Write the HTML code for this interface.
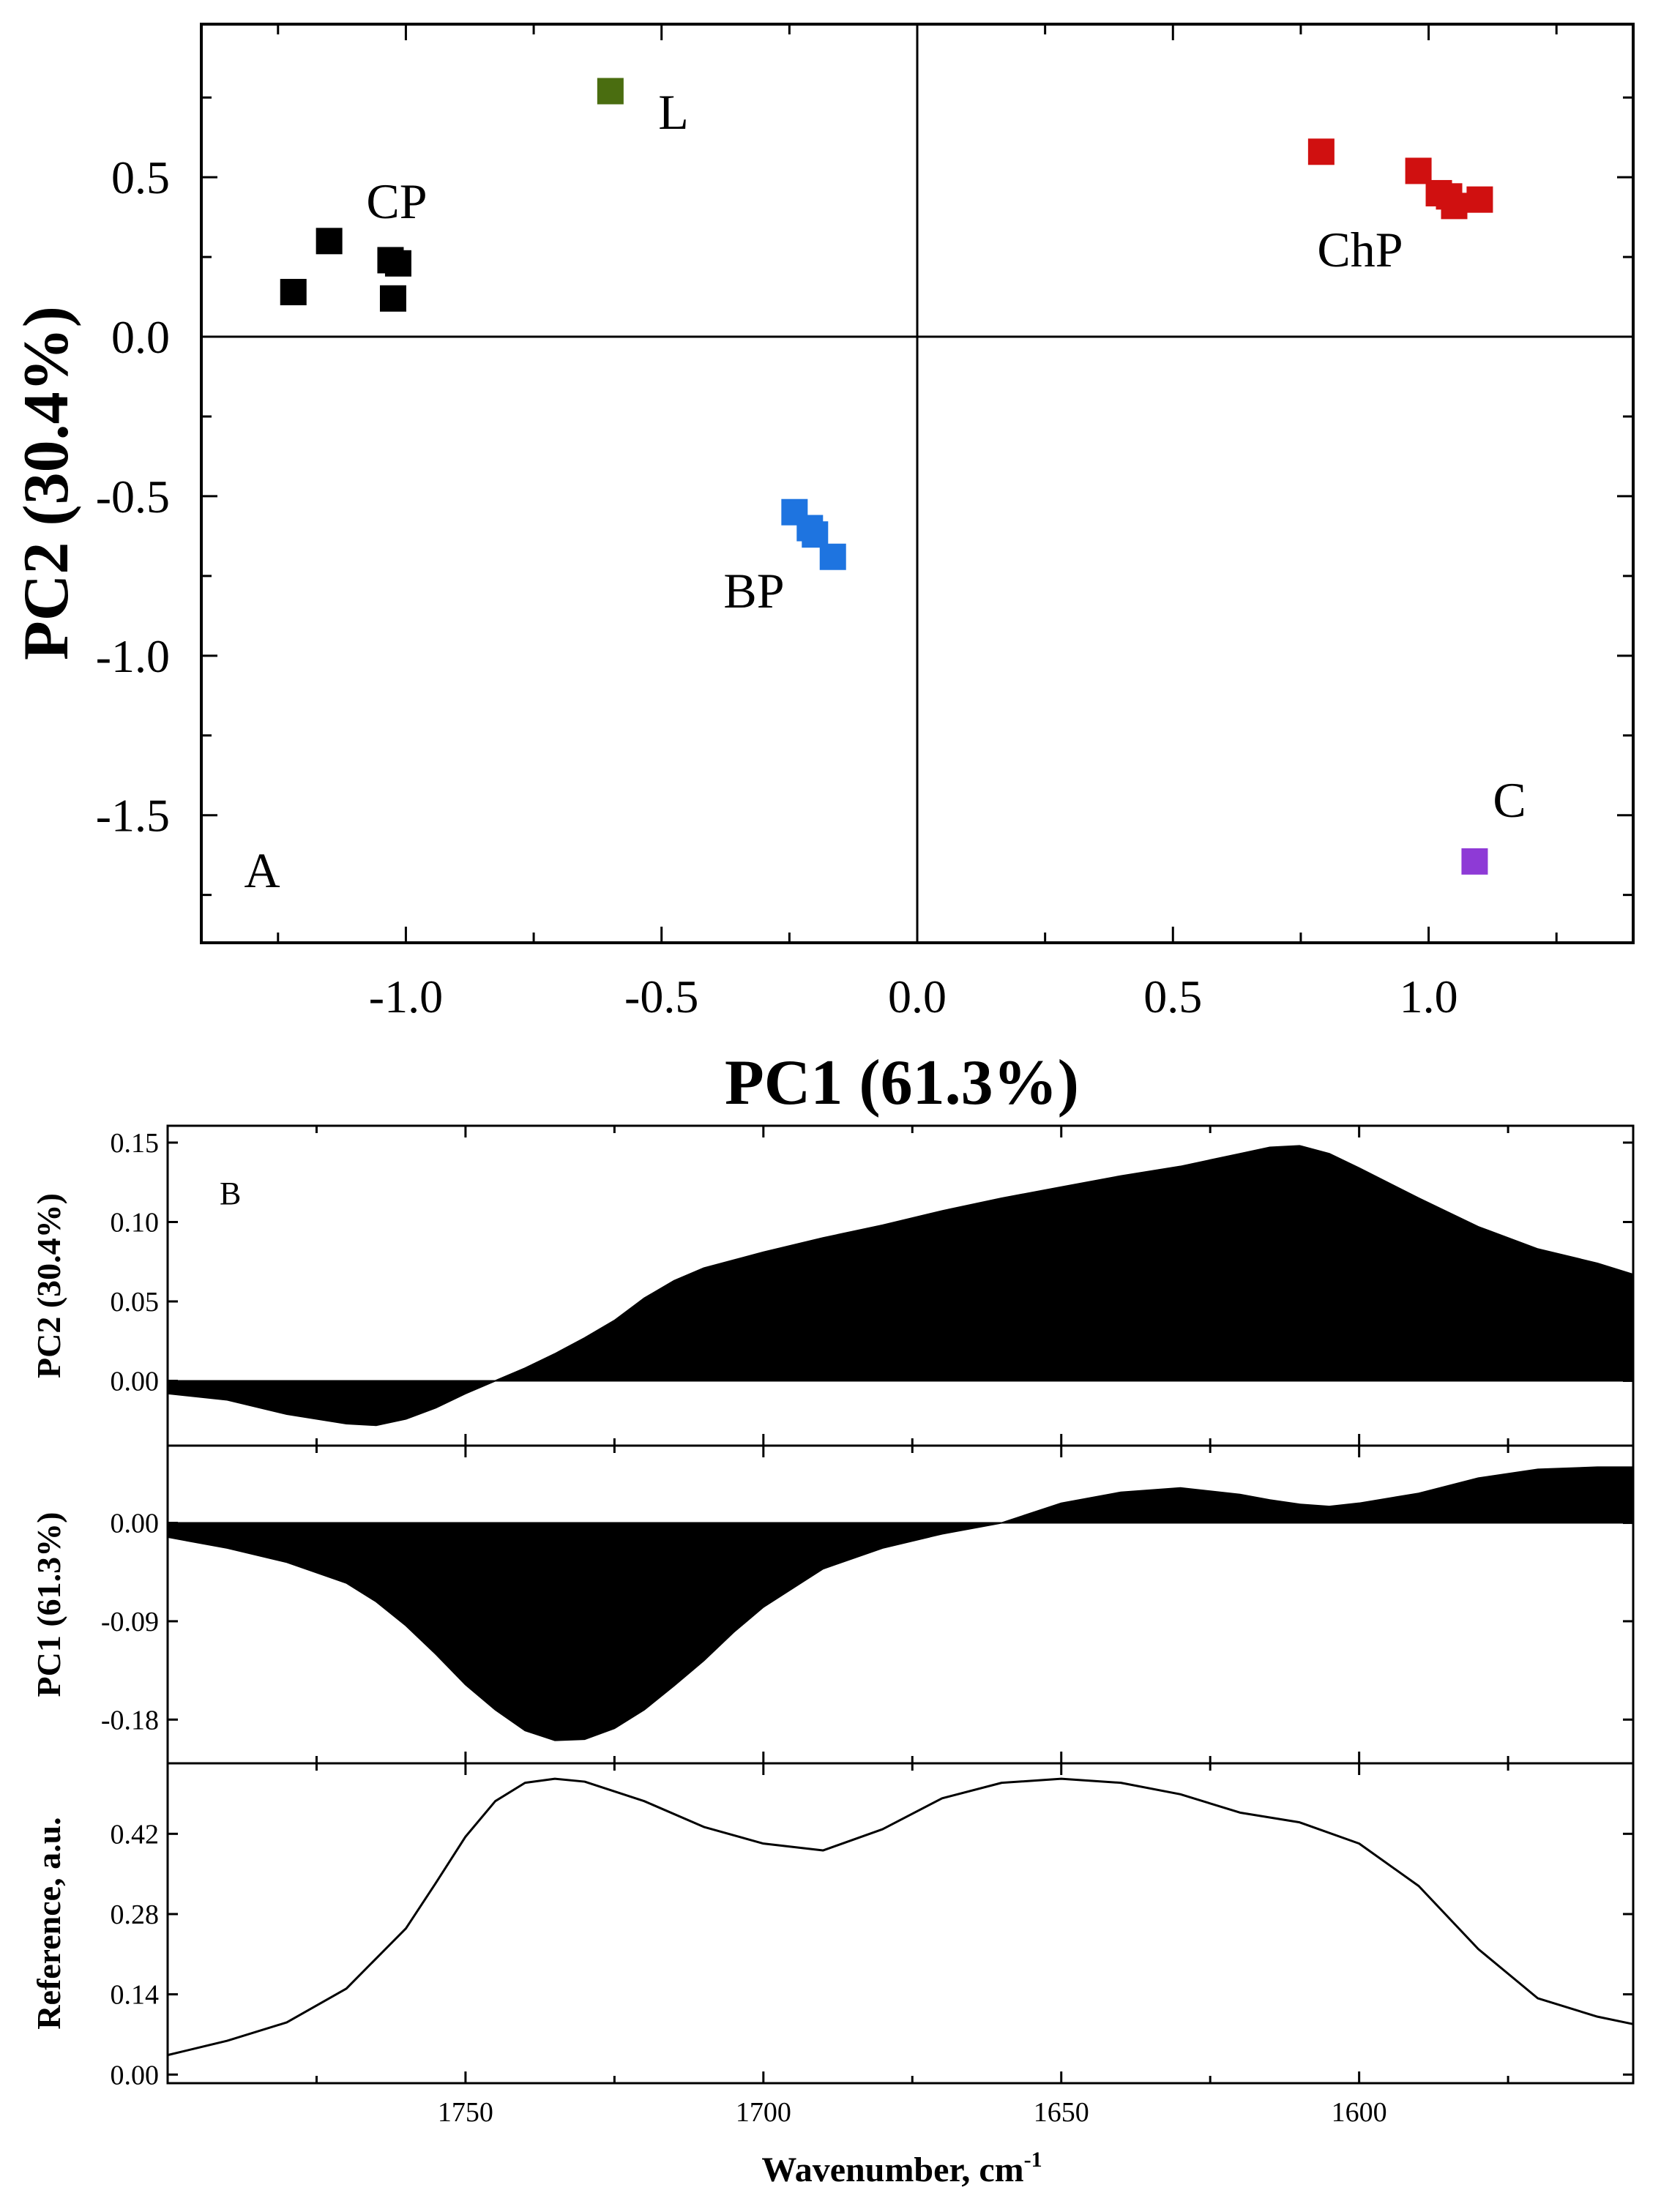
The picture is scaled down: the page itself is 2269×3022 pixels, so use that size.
<!DOCTYPE html>
<html><head><meta charset="utf-8"><style>
html,body{margin:0;padding:0;background:#fff;}
svg{display:block;font-family:"Liberation Serif",serif;}
</style></head><body>
<svg id="fig" width="2269" height="3022" viewBox="0 0 2269 3022" xmlns="http://www.w3.org/2000/svg">
<g id="pa"></g>
<g id="pb"></g>
</svg>
<script>
// ---- Panel A data ----
const groupNames = ["CP","L","ChP","BP","C"];
const groupColors = ["#000000","#4a6d10","#d01010","#1e74e0","#8e3ad6"];
const cpX = [-1.22,-1.15,-1.03,-1.015,-1.025];
const cpY = [0.14,0.30,0.24,0.23,0.12];
const lX = [-0.60];
const lY = [0.77];
const chpX = [0.79,0.98,1.02,1.04,1.05,1.10];
const chpY = [0.58,0.52,0.45,0.44,0.41,0.43];
const bpX = [-0.24,-0.21,-0.20,-0.165];
const bpY = [-0.55,-0.60,-0.62,-0.69];
const cX = [1.09];
const cY = [-1.645];
const xTicksA = [-1.0,-0.5,0.0,0.5,1.0];
const yTicksA = [-1.5,-1.0,-0.5,0.0,0.5];
// ---- Panel B data ----
const waves = [1800,1790,1780,1770,1765,1760,1755,1750,1745,1740,1735,1730,1725,1720,1715,1710,1705,1700,1690,1680,1670,1660,1650,1640,1630,1620,1615,1610,1605,1600,1590,1580,1570,1560,1554];
const pc2Load = [-0.008,-0.012,-0.021,-0.027,-0.028,-0.024,-0.017,-0.008,0.0,0.008,0.017,0.027,0.038,0.052,0.063,0.071,0.076,0.081,0.090,0.098,0.107,0.115,0.122,0.129,0.135,0.143,0.147,0.148,0.143,0.134,0.115,0.097,0.083,0.074,0.067];
const pc1Load = [-0.013,-0.023,-0.036,-0.055,-0.072,-0.094,-0.12,-0.148,-0.171,-0.19,-0.199,-0.198,-0.188,-0.171,-0.149,-0.126,-0.10,-0.077,-0.042,-0.023,-0.010,0.0,0.018,0.028,0.032,0.026,0.021,0.017,0.015,0.018,0.027,0.041,0.049,0.051,0.051];
const refWaves = [1800,1790,1780,1770,1760,1755,1750,1745,1740,1735,1730,1720,1710,1700,1690,1680,1670,1660,1650,1640,1630,1620,1610,1600,1590,1580,1570,1560,1554];
const refVals = [0.034,0.059,0.091,0.15,0.255,0.334,0.415,0.477,0.509,0.516,0.511,0.477,0.432,0.403,0.391,0.428,0.482,0.509,0.516,0.509,0.489,0.457,0.44,0.403,0.329,0.219,0.133,0.101,0.088];
const xTicksB = [1750,1700,1650,1600];
const pc2Ticks = [0.00,0.05,0.10,0.15];
const pc1Ticks = [-0.18,-0.09,0.00];
const refTicks = [0.00,0.14,0.28,0.42];

const NS="http://www.w3.org/2000/svg";
function mk(parent,tag,attrs,txt){const e=document.createElementNS(NS,tag);for(const k in attrs)e.setAttribute(k,attrs[k]);if(txt!==undefined)e.textContent=txt;parent.appendChild(e);return e;}

// ---- Panel A ----
const pa=document.getElementById('pa');
const AL=275,AR=2231,AT=33,AB=1288;
const axMin=-1.4,axMax=1.4,ayMin=-1.9,ayMax=0.98;
const sxA=v=>AL+(v-axMin)/(axMax-axMin)*(AR-AL);
const syA=v=>AB-(v-ayMin)/(ayMax-ayMin)*(AB-AT);
let fr=mk(pa,'rect',{x:AL,y:AT,width:AR-AL,height:AB-AT,fill:'none',stroke:'#000','stroke-width':4});


let zl=mk(pa,'line',{x1:sxA(0),x2:sxA(0),y1:AT,y2:AB,stroke:'#000','stroke-width':3});


zl=mk(pa,'line',{x1:AL,x2:AR,y1:syA(0),y2:syA(0),stroke:'#000','stroke-width':3});


for(let v=-1.25;v<=1.26;v+=0.25){const x=sxA(v);const maj=Math.abs(v*2-Math.round(v*2))<1e-6;const L=maj?22:14;
 mk(pa,'line',{x1:x,x2:x,y1:AB,y2:AB-L,stroke:'#000','stroke-width':3});
 mk(pa,'line',{x1:x,x2:x,y1:AT,y2:AT+L,stroke:'#000','stroke-width':3});}
for(let v=-1.75;v<=0.76;v+=0.25){const y=syA(v);const maj=Math.abs(v*2-Math.round(v*2))<1e-6;const L=maj?22:14;
 mk(pa,'line',{x1:AL,x2:AL+L,y1:y,y2:y,stroke:'#000','stroke-width':3});
 mk(pa,'line',{x1:AR,x2:AR-L,y1:y,y2:y,stroke:'#000','stroke-width':3});}
xTicksA.forEach(v=>{const t=mk(pa,'text',{x:sxA(v),y:1383,'font-size':64,'text-anchor':'middle'},v.toFixed(1));
 
 });
yTicksA.forEach(v=>{const t=mk(pa,'text',{x:232,y:syA(v)+22,'font-size':64,'text-anchor':'end'},v.toFixed(1));
 
 });
let t=mk(pa,'text',{x:1232,y:1508,'font-size':88,'font-weight':'bold','text-anchor':'middle'},'PC1 (61.3%)');


t=mk(pa,'text',{x:0,y:0,'font-size':88,'font-weight':'bold','text-anchor':'middle',transform:'translate(92,660) rotate(-90)'},'PC2 (30.4%)');


const groups=[[cpX,cpY],[lX,lY],[chpX,chpY],[bpX,bpY],[cX,cY]];
const gNames=['cp-point','l-point','chp-point','bp-point','c-point'];
groups.forEach((g,gi)=>{g[0].forEach((xv,i)=>{const r=mk(pa,'rect',{x:sxA(xv)-18,y:syA(g[1][i])-18,width:36,height:36,fill:groupColors[gi]});
 
 });});
const lbls=[['CP',542,298],['L',920,176],['ChP',1858,364],['BP',1030,830],['C',2062,1116],['A',358,1212]];
lbls.forEach(l=>{const e=mk(pa,'text',{x:l[1],y:l[2],'font-size':68,'text-anchor':'middle'},l[0]);
 
 });

// ---- Panel B ----
const pb=document.getElementById('pb');
const BL=229,BR=2231;
const wMax=1800,wMin=1554;
const sxB=w=>BL+(wMax-w)/(wMax-wMin)*(BR-BL);
const subs=[
 {top:1538,bot:1975,min:-0.0408,max:0.1606,ticks:pc2Ticks,vals:pc2Load,title:'PC2 (30.4%)',name:'pc2-loadings'},
 {top:1975,bot:2409,min:-0.22,max:0.0707,ticks:pc1Ticks,vals:pc1Load,title:'PC1 (61.3%)',name:'pc1-loadings'},
 {top:2409,bot:2846,min:-0.015,max:0.543,ticks:refTicks,vals:null,title:'Reference, a.u.',name:'reference-spectrum'}];
subs.forEach((s,si)=>{
 const sy=v=>s.bot-(v-s.min)/(s.max-s.min)*(s.bot-s.top);
 if(s.vals){
  let d='M'+sxB(waves[0])+','+sy(0);
  for(let i=0;i<waves.length;i++){d+=' L'+sxB(waves[i])+','+sy(s.vals[i]);}
  d+=' L'+BR+','+sy(s.vals[s.vals.length-1])+' L'+BR+','+sy(0)+' Z';
  const p=mk(pb,'path',{d:d,fill:'#000',stroke:'#000','stroke-width':2});
  
  
 } else {
  const pts=refWaves.map((w,i)=>sxB(w)+','+sy(refVals[i])).join(' ');
  const p=mk(pb,'polyline',{points:pts,fill:'none',stroke:'#000','stroke-width':3,'stroke-linejoin':'round'});
  
  
 }
 const f=mk(pb,'rect',{x:BL,y:s.top,width:BR-BL,height:s.bot-s.top,fill:'none',stroke:'#000','stroke-width':3});
 
 
 for(let w=1775;w>wMin;w-=25){const x=sxB(w);const L=(w%50===0)?16:10;
  mk(pb,'line',{x1:x,x2:x,y1:s.bot,y2:s.bot-L,stroke:'#000','stroke-width':3});
  mk(pb,'line',{x1:x,x2:x,y1:s.top,y2:s.top+L,stroke:'#000','stroke-width':3});}
 s.ticks.forEach(v=>{const y=sy(v);
  mk(pb,'line',{x1:BL,x2:BL+14,y1:y,y2:y,stroke:'#000','stroke-width':3});
  mk(pb,'line',{x1:BR,x2:BR-14,y1:y,y2:y,stroke:'#000','stroke-width':3});
  const e=mk(pb,'text',{x:BL-12,y:y+13,'font-size':38,'text-anchor':'end'},v.toFixed(2));
  
  });
 const ti=mk(pb,'text',{x:0,y:0,'font-size':46,'font-weight':'bold','text-anchor':'middle',transform:'translate(82,'+((s.top+s.bot)/2)+') rotate(-90)'},s.title);
 
 
});
xTicksB.forEach(w=>{const e=mk(pb,'text',{x:sxB(w),y:2898,'font-size':38,'text-anchor':'middle'},String(w));
 
 });
t=mk(pb,'text',{x:1232,y:2980,'font-size':48,'font-weight':'bold','text-anchor':'middle'},'Wavenumber, cm');


mk(t,'tspan',{dy:-20,'font-size':30},'-1');
t=mk(pb,'text',{x:300,y:1645,'font-size':44},'B');


</script>
</body></html>
